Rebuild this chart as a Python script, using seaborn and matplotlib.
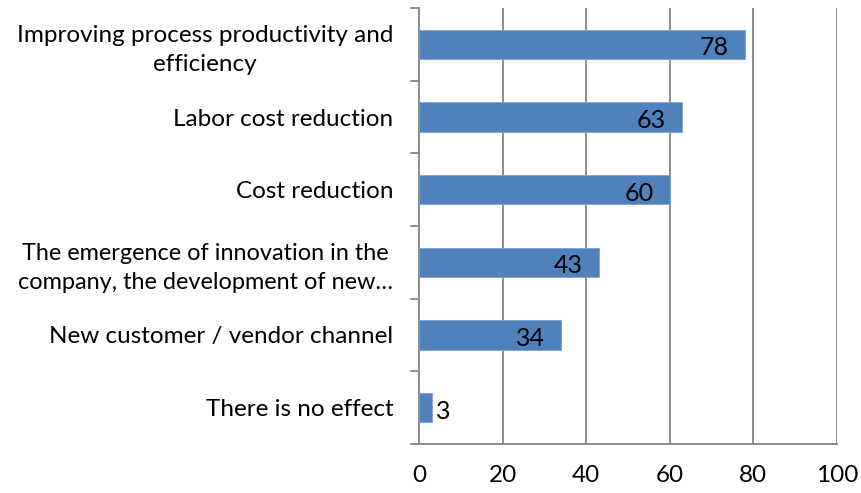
import matplotlib
matplotlib.use("Agg")
import matplotlib.pyplot as plt
import seaborn as sns
import pandas as pd
import numpy as np

categories = [
    "Improving process productivity and\nefficiency",
    "Labor cost reduction",
    "Cost reduction",
    "The emergence of innovation in the\ncompany, the development of new…",
    "New customer / vendor channel",
    "There is no effect",
]
values = [78, 63, 60, 43, 34, 3]
x_ticks = [0, 20, 40, 60, 80, 100]

df = pd.DataFrame({"category": categories, "value": values})

sns.set_theme(style="white")
plt.rcParams["font.family"] = ["Lato", "DejaVu Sans"]

fs = 17.5

fig = plt.figure(figsize=(8.61, 4.93), dpi=100)
ax = fig.add_axes([419 / 861, 1 - 444 / 493, (837 - 419) / 861, (444 - 8) / 493])

bar_color = "#4F81BD"
sns.barplot(data=df, x="value", y="category", orient="h", color=bar_color,
            width=0.4, saturation=1, ax=ax, edgecolor="#7FA3D0", linewidth=0.6, zorder=3)

ax.set_xlim(0, 100)
ax.set_ylim(len(categories) - 0.5, -0.5)
ax.set_xticks(x_ticks)
ax.set_xticklabels([str(t) for t in x_ticks], fontsize=fs, color="black")
ax.set_xlabel("")
ax.set_ylabel("")

grid_c = "#8C8C8C"
for t in x_ticks[1:]:
    ax.axvline(t, color=grid_c, linewidth=1.4, zorder=1)

for s in ["top", "right"]:
    ax.spines[s].set_visible(False)
ax.spines["left"].set_color(grid_c)
ax.spines["left"].set_linewidth(1.4)
ax.spines["bottom"].set_color(grid_c)
ax.spines["bottom"].set_linewidth(1.4)

# y ticks at category boundaries
ax.set_yticks(np.arange(len(categories)))
ax.set_yticklabels(categories, fontsize=fs, color="black", linespacing=1.45,
                   multialignment="center")
for lbl in ax.get_yticklabels():
    if "emergence" in lbl.get_text():
        lbl.set_fontsize(16.9)
ax.tick_params(axis="y", length=0, pad=18.5)
for b in np.arange(-0.5, len(categories), 1.0):
    ax.plot([-0.02, 0], [b, b], transform=ax.get_yaxis_transform(), color=grid_c,
            linewidth=1.4, clip_on=False, zorder=2)
ax.tick_params(axis="x", length=6, width=1.4, color=grid_c, direction="out", pad=9)

for i, v in enumerate(values):
    if v >= 10:
        ax.text(v - 3.9, i + 0.05, str(v), ha="right", va="center", fontsize=fs + 0.5,
                color="black", zorder=4)
    else:
        ax.text(v + 1.0, i + 0.05, str(v), ha="left", va="center", fontsize=fs + 0.5,
                color="black", zorder=4)

fig.savefig("out.png", dpi=100)
